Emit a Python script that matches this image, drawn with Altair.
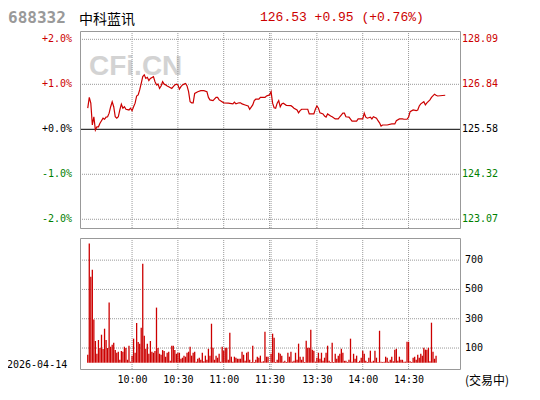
import json
import altair as alt
import pandas as pd

# ---------------- data ----------------
code_text = "688332"
name_text = "中科蓝讯"
quote_text = "126.53 +0.95 (+0.76%)"
date_text = "2026-04-14"
status_text = "(交易中)"
watermark_text = "CFi.CN"
prev_close = 125.58

pct_levels = [2, 1, 0, -1, -2]
pct_labels = ["+2.0%", "+1.0%", "+0.0%", "-1.0%", "-2.0%"]
price_labels = ["128.09", "126.84", "125.58", "124.32", "123.07"]

vol_ticks = [700, 500, 300, 100]
vol_tick_labels = ["700", "500", "300", "100"]

x_tick_times = ["10:00", "10:30", "11:00", "11:30", "13:30", "14:00", "14:30"]
grid_times = ["10:00", "10:30", "11:00", "11:30", "13:00", "13:30", "14:00", "14:30"]

price_times = [
    "09:31", "09:32", "09:33", "09:34", "09:35", "09:36", "09:37", "09:38", "09:39", "09:40",
    "09:41", "09:42", "09:43", "09:44", "09:45", "09:46", "09:47", "09:48", "09:49", "09:50",
    "09:51", "09:52", "09:53", "09:54", "09:55", "09:56", "09:58", "09:59", "10:00", "10:01",
    "10:02", "10:03", "10:04", "10:05", "10:06", "10:07", "10:08", "10:09", "10:10", "10:11",
    "10:12", "10:14", "10:15", "10:16", "10:17", "10:18", "10:19", "10:20", "10:21", "10:22",
    "10:23", "10:24", "10:26", "10:27", "10:28", "10:29", "10:30", "10:31", "10:32", "10:33",
    "10:34", "10:35", "10:36", "10:37", "10:38", "10:39", "10:40", "10:41", "10:43", "10:45",
    "10:47", "10:49", "10:50", "10:51", "10:53", "10:55", "10:56", "10:57", "11:00", "11:03",
    "11:06", "11:07", "11:08", "11:10", "11:11", "11:12", "11:14", "11:16", "11:17", "11:19",
    "11:20", "11:21", "11:23", "11:24", "11:27", "11:28", "11:30",
    "13:00", "13:01", "13:02", "13:03", "13:04", "13:05", "13:06", "13:07", "13:08", "13:10",
    "13:13", "13:14", "13:15", "13:17", "13:18", "13:19", "13:20", "13:24", "13:25", "13:28",
    "13:29", "13:30", "13:31", "13:32", "13:34", "13:35", "13:36", "13:37", "13:39", "13:40",
    "13:42", "13:44", "13:45", "13:47", "13:48", "13:49", "13:51", "13:53", "13:56", "13:57",
    "14:00", "14:01", "14:02", "14:03", "14:05", "14:06", "14:07", "14:09", "14:10", "14:11",
    "14:12", "14:13", "14:16", "14:19", "14:21", "14:22", "14:24", "14:26", "14:27", "14:29",
    "14:30", "14:31", "14:33", "14:35", "14:36", "14:37", "14:38", "14:40", "14:41", "14:42",
    "14:44", "14:45", "14:47", "14:48", "14:49", "14:54",
]
price_values = [
    126.17, 126.47, 126.31, 125.70, 125.93, 125.56, 125.65, 125.65, 125.75, 125.82,
    125.89, 125.86, 125.92, 125.93, 126.03, 126.21, 126.35, 126.21, 125.93, 125.89,
    125.93, 126.12, 126.28, 126.17, 126.21, 126.14, 126.12, 126.17, 126.10, 126.21,
    126.31, 126.51, 126.54, 126.68, 126.86, 127.05, 127.10, 127.00, 127.03, 126.94,
    127.00, 127.05, 126.91, 126.82, 126.84, 126.72, 126.79, 126.91, 126.84, 126.82,
    126.79, 126.77, 126.72, 126.77, 126.82, 126.84, 126.82, 126.70, 126.77, 126.82,
    126.84, 126.86, 126.79, 126.63, 126.35, 126.32, 126.32, 126.58, 126.63, 126.66,
    126.66, 126.63, 126.47, 126.40, 126.38, 126.47, 126.47, 126.40, 126.32, 126.31,
    126.29, 126.34, 126.29, 126.32, 126.32, 126.29, 126.26, 126.23, 126.14, 126.26,
    126.38, 126.42, 126.42, 126.47, 126.47, 126.51, 126.54,
    126.63, 126.31, 126.18, 126.17, 126.31, 126.38, 126.21, 126.29, 126.31, 126.25,
    126.24, 126.21, 126.17, 126.12, 126.04, 126.10, 126.14, 126.14, 126.01, 126.01,
    126.14, 126.23, 126.17, 126.04, 126.01, 125.95, 125.92, 126.01, 125.95, 125.93,
    125.87, 125.87, 125.93, 126.03, 126.03, 125.93, 125.92, 125.81, 125.81, 125.87,
    125.87, 126.03, 125.92, 125.89, 125.92, 125.87, 125.93, 125.89, 125.82, 125.76,
    125.67, 125.70, 125.70, 125.73, 125.73, 125.82, 125.87, 125.87, 125.86, 125.86,
    125.92, 126.07, 126.12, 126.10, 126.12, 126.23, 126.29, 126.35, 126.26, 126.32,
    126.40, 126.47, 126.56, 126.53, 126.51, 126.53,
]

# per-minute volume, morning from 09:31, afternoon from 13:00
vol_am = [
    54, 813, 587, 635, 294, 148, 61, 155, 100, 191,
    93, 232, 155, 100, 410, 109, 123, 136, 86, 68,
    75, 20, 80, 75, 109, 100, 20, 116, 7, 48,
    164, 68, 271, 141, 130, 239, 676, 184, 95, 130,
    61, 148, 75, 68, 80, 376, 100, 61, 54, 86,
    80, 41, 68, 75, 13, 116, 116, 86, 61,
    68, 68, 27, 34, 48, 41, 68, 75, 109, 48,
    68, 75, 7, 27, 34, 20, 68, 10, 48, 20,
    95, 48, 266, 102, 20, 48, 34, 61, 7, 109,
    82, 102, 102, 20, 205, 41, 7, 41, 34, 27,
    27, 27, 75, 54, 13, 68, 75, 20, 5, 116,
    5, 20, 41, 34, 48, 7, 10, 212, 41, 41,
]
vol_pm = [
    61, 198, 171, 5, 20, 68, 61, 48, 7, 13,
    5, 68, 41, 75, 7, 13, 68, 20, 130, 41,
    20, 41, 5, 150, 102, 102, 225, 89, 82, 7,
    34, 68, 27, 68, 13, 34, 68, 116, 13, 5,
    136, 5, 61, 27, 48, 61, 95, 68, 13, 13,
    5, 20, 164, 7, 61, 27, 48, 5, 13,
    34, 82, 61, 13, 5, 34, 82, 7, 13, 82,
    34, 5, 218, 7, 5, 7, 41, 34, 7, 20,
    41, 10, 89, 95, 13, 41, 20, 20, 7, 7,
    143, 143, 10, 5, 34, 41, 20, 54, 34, 61,
    48, 102, 89, 89, 102, 10, 273, 75, 27, 48,
]

# ---------------- helpers ----------------
def tindex(s):
    h, m = (int(v) for v in s.split(":"))
    mins = h * 60 + m
    return mins - 570 if mins <= 690 else mins - 659


RED = "#cc0000"
GREEN = "#008000"
GRID = "#999999"
FRAME = "#999999"
MONO = "DejaVu Sans Mono"
CJK = "Noto Sans CJK SC"

W, H = 380, 338
P_BOT = 197
V_TOP = 207

price_df = pd.DataFrame({"t": [tindex(s) for s in price_times], "price": price_values})
vol_df = pd.DataFrame({
    "t": [1 + i for i in range(len(vol_am))] + [121 + i for i in range(len(vol_pm))],
    "vol": vol_am + vol_pm,
})
levels_df = pd.DataFrame({
    "pct": pct_levels,
    "price": [prev_close * (1 + p / 100) for p in pct_levels],
    "pct_label": pct_labels,
    "price_label": price_labels,
})
vol_lv_df = pd.DataFrame({"vol": vol_ticks, "label": vol_tick_labels})
vgrid_df = pd.DataFrame({"t": [tindex(s) for s in grid_times]})

tick_vals = [tindex(s) for s in x_tick_times]
label_expr = f"{json.dumps(x_tick_times)}[indexof({json.dumps(tick_vals)}, datum.value)]"

xscale = alt.Scale(domain=[-0.8, 241.4], nice=False, zero=False)
xaxis = alt.Axis(values=tick_vals, labelExpr=label_expr, grid=False, domain=False,
                 ticks=False, tickSize=0, labelPadding=5, labelFont=MONO,
                 labelFontSize=10, labelColor="black", title=None)
X = alt.X("t:Q", scale=xscale, axis=xaxis)

price_scale = alt.Scale(domain=[122.825, 128.324], range=[P_BOT, 0], nice=False, zero=False)
vol_scale = alt.Scale(domain=[-43, 851], range=[H, V_TOP], nice=False, zero=False)
PY = alt.Y("price:Q", scale=price_scale, axis=None)
VY = alt.Y("vol:Q", scale=vol_scale, axis=None)

one = pd.DataFrame({"a": [0]})
color_expr = f"datum.pct > 0 ? '{RED}' : (datum.pct < 0 ? '{GREEN}' : 'black')"

layers = []

# watermark
layers.append(
    alt.Chart(pd.DataFrame({"s": [watermark_text]})).mark_text(
        align="left", baseline="alphabetic", font="Liberation Sans", fontSize=28,
        fontWeight="bold", color="#d3d3d3"
    ).encode(x=alt.value(9), y=alt.value(44), text="s:N")
)

# price panel grid
layers.append(
    alt.Chart(levels_df).transform_filter("datum.pct != 0").mark_rule(
        color=GRID, strokeDash=[1, 1], strokeWidth=1
    ).encode(x=alt.value(0), x2=alt.value(W), y=PY)
)
layers.append(
    alt.Chart(vgrid_df).mark_rule(color=GRID, strokeDash=[1, 1], strokeWidth=1).encode(
        x=X, y=alt.value(0), y2=alt.value(P_BOT)
    )
)
# volume panel grid
layers.append(
    alt.Chart(vol_lv_df).mark_rule(color=GRID, strokeDash=[1, 1], strokeWidth=1).encode(
        x=alt.value(0), x2=alt.value(W), y=VY
    )
)
layers.append(
    alt.Chart(vgrid_df).mark_rule(color=GRID, strokeDash=[1, 1], strokeWidth=1).encode(
        x=X, y=alt.value(V_TOP), y2=alt.value(H)
    )
)

# zero line
layers.append(
    alt.Chart(levels_df).transform_filter("datum.pct == 0").mark_rule(
        color="black", strokeWidth=1
    ).encode(x=alt.value(0), x2=alt.value(W), y=PY)
)

# volume bars
layers.append(
    alt.Chart(vol_df).mark_bar(color=RED, width=1.3).encode(
        x=X, y=VY, y2=alt.value(H)
    )
)

# price line
layers.append(
    alt.Chart(price_df).mark_line(color=RED, strokeWidth=1.2).encode(x=X, y=PY)
)

# frames
layers.append(
    alt.Chart(one).mark_rect(fillOpacity=0, stroke=FRAME, strokeWidth=1).encode(
        x=alt.value(0.5), x2=alt.value(W + 0.5), y=alt.value(0.5), y2=alt.value(P_BOT + 0.5)
    )
)
layers.append(
    alt.Chart(one).mark_rect(fillOpacity=0, stroke=FRAME, strokeWidth=1).encode(
        x=alt.value(0.5), x2=alt.value(W + 0.5), y=alt.value(V_TOP + 0.5), y2=alt.value(H + 0.5)
    )
)

# axis labels (left pct, right price)
layers.append(
    alt.Chart(levels_df).transform_calculate(c=color_expr).mark_text(
        align="right", baseline="middle", font=MONO, fontSize=10
    ).encode(x=alt.value(-8), y=PY, text="pct_label:N", color=alt.Color("c:N", scale=None))
)
layers.append(
    alt.Chart(levels_df).transform_calculate(c=color_expr).mark_text(
        align="left", baseline="middle", font=MONO, fontSize=10
    ).encode(x=alt.value(382), y=PY, text="price_label:N", color=alt.Color("c:N", scale=None))
)
layers.append(
    alt.Chart(vol_lv_df).mark_text(
        align="left", baseline="middle", font=MONO, fontSize=10, color="black"
    ).encode(x=alt.value(385), y=VY, text="label:N")
)

# header
layers.append(
    alt.Chart(pd.DataFrame({"s": [code_text]})).mark_text(
        align="left", baseline="alphabetic", font=MONO, fontSize=16, fontWeight="bold",
        color="#999999"
    ).encode(x=alt.value(-72), y=alt.value(-8), text="s:N")
)
layers.append(
    alt.Chart(pd.DataFrame({"s": [name_text]})).mark_text(
        align="left", baseline="alphabetic", font=CJK, fontSize=14, color="black"
    ).encode(x=alt.value(-1), y=alt.value(-6.6), text="s:N")
)
layers.append(
    alt.Chart(pd.DataFrame({"s": [quote_text]})).mark_text(
        align="left", baseline="alphabetic", font="Liberation Mono", fontSize=13, color=RED
    ).encode(x=alt.value(180), y=alt.value(-10), text="s:N")
)
layers.append(
    alt.Chart(pd.DataFrame({"s": [date_text]})).mark_text(
        align="left", baseline="alphabetic", font=MONO, fontSize=10, color="black"
    ).encode(x=alt.value(-73), y=alt.value(337), text="s:N")
)
layers.append(
    alt.Chart(pd.DataFrame({"s": [status_text]})).mark_text(
        align="left", baseline="middle", font=CJK, fontSize=12, color="black"
    ).encode(x=alt.value(385), y=alt.value(350), text="s:N")
)

chart = alt.layer(*layers).resolve_scale(y="independent").properties(
    width=W,
    height=H,
    autosize=alt.AutoSizeParams(type="none"),
    padding={"left": 72, "top": 23, "right": 72, "bottom": 20},
).configure_view(strokeWidth=0)

chart.save("out.html", embed_options={"renderer": "svg", "actions": False})
